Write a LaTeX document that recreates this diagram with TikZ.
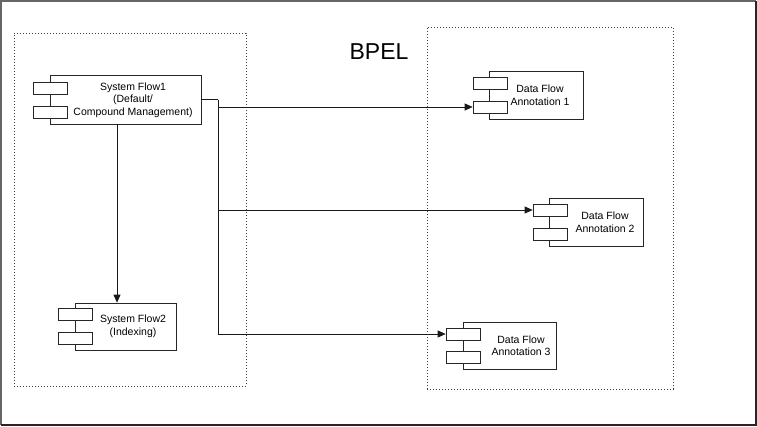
\documentclass[tikz,border=0pt]{standalone}
\usepackage{fontspec}
\setmainfont{Liberation Sans}
\usetikzlibrary{arrows.meta}
\begin{document}
\begin{tikzpicture}[x=1pt,y=-1pt,
  comp/.style={draw=black!85, line width=0.7pt, fill=white, inner sep=0pt},
  port/.style={draw=black!85, line width=0.7pt, fill=white, minimum width=34pt, minimum height=12pt, inner sep=0pt},
  lbl/.style={font=\fontsize{10.5}{12.5}\selectfont, align=center, inner sep=0pt},
  wire/.style={line width=0.7pt, draw=black!90},
  arr/.style={wire, -{Triangle[length=8pt,width=7pt]}},
  group/.style={draw=black!75, line width=0.7pt, dash pattern=on 0.8pt off 2.2pt}
]
\useasboundingbox (0,0) rectangle (757,426);
\draw[draw=black!60, line width=1.6pt] (1,425) -- (1,1) -- (756,1);
\draw[draw=black!85, line width=1.6pt] (756,1) -- (756,425) -- (1,425);

% groups
\node[group, minimum width=232pt, minimum height=353pt, inner sep=0pt] (gleft) at (130,209.5) {};
\node[group, minimum width=246pt, minimum height=362pt, inner sep=0pt] (gright) at (550,208) {};
\node[font=\fontsize{23}{26}\selectfont, inner sep=0pt] (bpel) at (379,52) {BPEL};

% System Flow1
\node[comp, minimum width=151pt, minimum height=49pt] (sf1) at (125.5,99.5) {};
\node[port] (sf1p1) at (50,88) {};
\node[port] (sf1p2) at (50,112) {};
\node[lbl] (sf1t) at (133,100) {System Flow1\\(Default/\\Compound Management)};

% System Flow2
\node[comp, minimum width=101pt, minimum height=47pt] (sf2) at (125.5,326.5) {};
\node[port] (sf2p1) at (75,314.5) {};
\node[port] (sf2p2) at (75,338.5) {};
\node[lbl] (sf2t) at (133,326.5) {System Flow2\\(Indexing)};

% Data Flow Annotation 1
\node[comp, minimum width=94pt, minimum height=48pt] (dfa1) at (536,95) {};
\node[port] (dfa1p1) at (490,83) {};
\node[port] (dfa1p2) at (490,107) {};
\node[lbl] (dfa1t) at (540,95) {Data Flow\\Annotation 1};

% Data Flow Annotation 2
\node[comp, minimum width=94pt, minimum height=48pt] (dfa2) at (596,222) {};
\node[port] (dfa2p1) at (550,210) {};
\node[port] (dfa2p2) at (550,234) {};
\node[lbl] (dfa2t) at (605,222) {Data Flow\\Annotation 2};

% Data Flow Annotation 3
\node[comp, minimum width=93pt, minimum height=47pt] (dfa3) at (509.5,345.5) {};
\node[port] (dfa3p1) at (463,334) {};
\node[port] (dfa3p2) at (463,357.5) {};
\node[lbl] (dfa3t) at (521,345.5) {Data Flow\\Annotation 3};

% connectors
\coordinate (j) at (218,99.5);
\draw[wire, line width=1.2pt] (sf1.east) -- (j);
\draw[arr] (j) |- (dfa3p1.west);
\draw[arr] (j |- dfa1p2) -- (dfa1p2.west);
\draw[arr] (j |- dfa2p1) -- (dfa2p1.west);
\draw[arr] ([xshift=-8.5pt]sf1.south) -- ([xshift=-8.5pt]sf2.north);
\end{tikzpicture}
\end{document}
